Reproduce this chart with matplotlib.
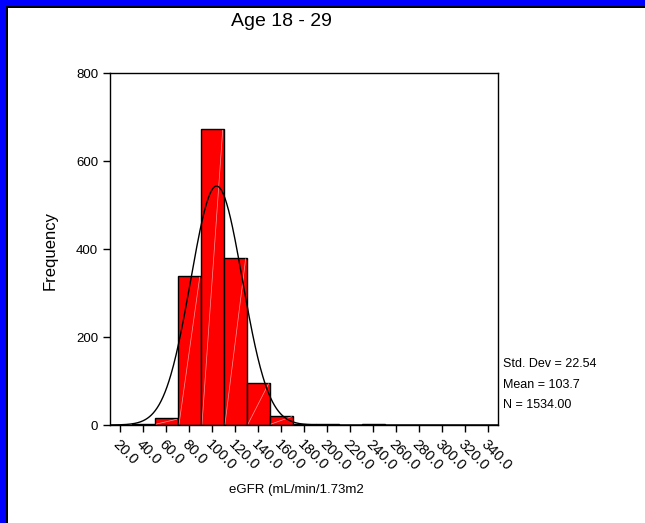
import numpy as np
import matplotlib
matplotlib.use("Agg")
import matplotlib.pyplot as plt
from matplotlib.patches import Rectangle

# ---- data ----
bin_centers = [20, 40, 60, 80, 100, 120, 140, 160, 180, 200, 220, 240, 260, 280, 300, 320, 340]
counts = [1, 3, 15, 338, 672, 380, 96, 21, 3, 2, 0, 2, 1, 0, 0, 0, 0]
tick_labels = ["20.0", "40.0", "60.0", "80.0", "100.0", "120.0", "140.0", "160.0", "180.0",
               "200.0", "220.0", "240.0", "260.0", "280.0", "300.0", "320.0", "340.0"]
std_dev = 22.54
mean = 103.7
n_total = 1534
bin_width = 20
title = "Age 18 - 29"
xlabel = "eGFR (mL/min/1.73m2"
ylabel = "Frequency"

plt.rcParams['font.family'] = ['Liberation Sans', 'DejaVu Sans']

W, H = 645, 523
fig = plt.figure(figsize=(W / 100, H / 100), dpi=100)
fig.patch.set_facecolor('white')

# frame (blue border top/left with inner black line)
def px(x0, y0, x1, y1, color):
    fig.add_artist(Rectangle((x0 / W, 1 - y1 / H), (x1 - x0) / W, (y1 - y0) / H,
                             transform=fig.transFigure, facecolor=color, edgecolor='none', zorder=10))
px(0, 0, 6, H, '#0000FF')
px(0, 0, W, 6, '#0000FF')
px(6, 6, 8, H, 'black')
px(6, 6, W, 8, 'black')

ax = fig.add_axes([110 / W, 1 - 425 / H, 388 / W, 352 / H])
ax.bar(bin_centers, counts, width=bin_width, color='#FF0000', edgecolor='black', linewidth=1.0, zorder=2)
for c, h in zip(bin_centers, counts):
    if h > 5:
        ax.plot([c - bin_width / 2 + 1, c + bin_width / 2 - 1], [2, h - 2],
                color='white', lw=0.5, alpha=0.6, zorder=3)

xs = np.linspace(10.9, 348.7, 600)
ys = n_total * bin_width * np.exp(-0.5 * ((xs - mean) / std_dev) ** 2) / (std_dev * np.sqrt(2 * np.pi))
ax.plot(xs, ys, color='black', lw=1.0, zorder=4)

ax.set_xlim(10.9, 348.7)
ax.set_ylim(0, 800)
ax.set_xticks(bin_centers)
ax.set_xticklabels(tick_labels, rotation=-45, ha='left', va='top', rotation_mode='anchor', fontsize=10.5)
ax.set_yticks([0, 200, 400, 600, 800])
ax.tick_params(axis='both', direction='out', length=5, width=1, color='black')
ax.tick_params(axis='y', labelsize=9.5)
ax.tick_params(axis='x', pad=4)
for s in ax.spines.values():
    s.set_linewidth(1.0)
    s.set_color('black')

fig.text(50 / W, 1 - 250 / H, ylabel, rotation=90, ha='center', va='center', fontsize=12)
fig.text(296 / W, 1 - 490 / H, xlabel, ha='center', va='center', fontsize=9.5)
fig.text(281 / W, 1 - 21 / H, title, ha='center', va='center', fontsize=14)

stats = ["Std. Dev = %.2f" % std_dev, "Mean = %.1f" % mean, "N = %.2f" % n_total]
for i, s in enumerate(stats):
    fig.text(503 / W, 1 - (364 + 20.5 * i) / H, s, ha='left', va='center', fontsize=9)

fig.savefig("out.png", dpi=100, facecolor='white')
